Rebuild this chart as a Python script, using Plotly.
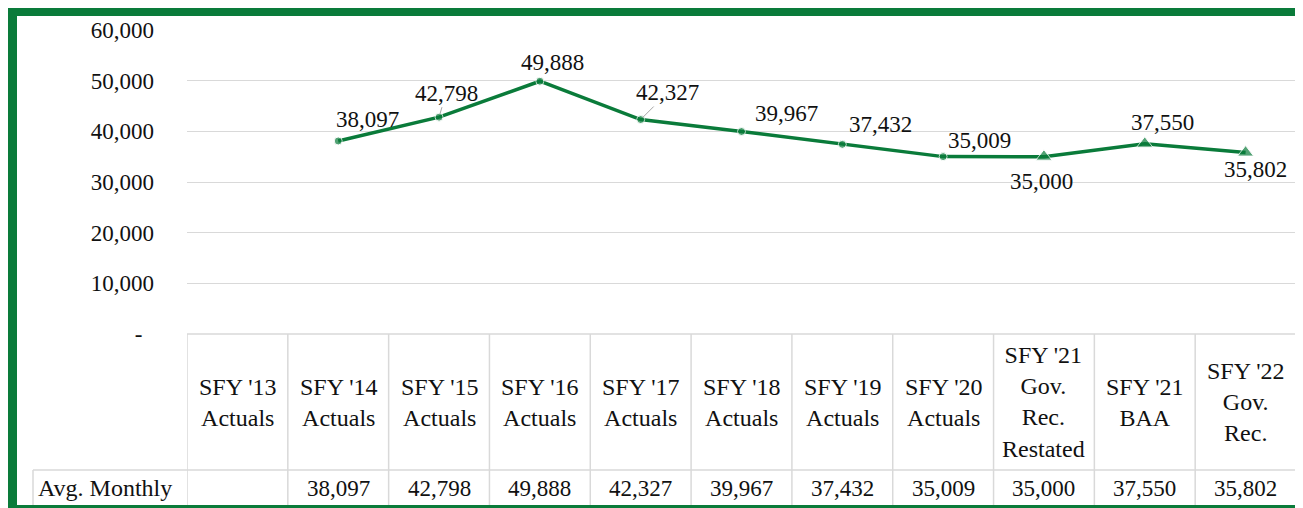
import plotly.graph_objects as go

# data
categories = ["SFY '13 Actuals", "SFY '14 Actuals", "SFY '15 Actuals", "SFY '16 Actuals",
              "SFY '17 Actuals", "SFY '18 Actuals", "SFY '19 Actuals", "SFY '20 Actuals",
              "SFY '21 Gov. Rec. Restated", "SFY '21 BAA", "SFY '22 Gov. Rec."]
header_labels = ["SFY '13<br>Actuals", "SFY '14<br>Actuals", "SFY '15<br>Actuals",
                 "SFY '16<br>Actuals", "SFY '17<br>Actuals", "SFY '18<br>Actuals",
                 "SFY '19<br>Actuals", "SFY '20<br>Actuals",
                 "SFY '21<br>Gov.<br>Rec.<br>Restated", "SFY '21<br>BAA",
                 "SFY '22<br>Gov.<br>Rec."]
avg_monthly = [None, 38097, 42798, 49888, 42327, 39967, 37432, 35009, 35000, 37550, 35802]
row_label = "Avg. Monthly"
y_ticks = [0, 10000, 20000, 30000, 40000, 50000, 60000]

GREEN = "#0A7B3A"
GRID = "#D9D9D9"
TEXT = "#111111"
FONT = "Liberation Serif"
W, H = 1303, 508
OFF = 8  # the page body margin shifts the figure by this much


def px(x):
    # page pixel column -> paper x
    return (x - OFF) / W


def py(y):
    # page pixel row -> paper y
    return 1 - (y - OFF) / H


symbols = ["circle"] * 8 + ["triangle-up"] * 3
sizes = [8] * 8 + [14] * 3

fig = go.Figure(go.Scatter(
    x=categories, y=avg_monthly, mode="lines+markers",
    line=dict(color=GREEN, width=3.5),
    marker=dict(color=GREEN, symbol=symbols, size=sizes),
    connectgaps=False, hoverinfo="skip",
))

num_font = dict(family=FONT, size=23, color=TEXT)
txt_font = dict(family=FONT, size=24, color=TEXT)

# data labels (offsets in pixels, as in the reference)
label_offsets = [None, (29, 21), (7, 24), (13, 19), (27, 27), (45, 18),
                 (38, 20), (36, 16), (-2, -25), (18, 21), (10, -17)]
leader = {2, 4}
for i, (c, v) in enumerate(zip(categories, avg_monthly)):
    if v is None:
        continue
    dx, dy = label_offsets[i]
    if i in leader:
        fig.add_annotation(x=c, y=v, xref="x", yref="y", text=f"{v:,}",
                           showarrow=True, arrowhead=0, arrowwidth=1,
                           arrowcolor="#A6A6A6", ax=dx, ay=-dy, standoff=3,
                           font=num_font)
    else:
        fig.add_annotation(x=c, y=v, xref="x", yref="y", text=f"{v:,}",
                           showarrow=False, xshift=dx, yshift=dy,
                           xanchor="center", yanchor="middle", font=num_font)

# data table below the plot
table_top, row_sep, table_bot = 334, 470, 516
line_style = dict(color=GRID, width=1.5)
shapes = []
for k in range(len(categories) + 1):
    shapes.append(dict(type="line", xref="x", yref="paper", x0=k - 0.5, x1=k - 0.5,
                       y0=py(table_top), y1=py(table_bot), line=line_style))
shapes.append(dict(type="line", xref="x", yref="paper", x0=-0.5, x1=len(categories) - 0.5,
                   y0=py(table_top), y1=py(table_top), line=line_style))
shapes.append(dict(type="line", xref="paper", yref="paper", x0=px(33), x1=px(1296),
                   y0=py(row_sep), y1=py(row_sep), line=line_style))
shapes.append(dict(type="line", xref="paper", yref="paper", x0=px(33), x1=px(33),
                   y0=py(row_sep), y1=py(table_bot), line=line_style))
# green frame
shapes.append(dict(type="rect", xref="paper", yref="paper", x0=px(12.5), x1=px(1299.5),
                   y0=py(509.5), y1=py(11.5), line=dict(color=GREEN, width=9)))

for c, lab, v in zip(categories, header_labels, avg_monthly):
    fig.add_annotation(x=c, y=py(402), xref="x", yref="paper", text=lab, showarrow=False,
                       xanchor="center", yanchor="middle", align="center", font=txt_font)
    if v is not None:
        fig.add_annotation(x=c, y=py(488), xref="x", yref="paper", text=f"{v:,}",
                           showarrow=False, xanchor="center", yanchor="middle",
                           font=num_font)
fig.add_annotation(x=px(36), y=py(488), xref="paper", yref="paper", text=row_label,
                   xanchor="left", yanchor="middle", showarrow=False, font=txt_font)

fig.update_layout(
    width=W, height=H,
    margin=dict(l=0, r=0, t=0, b=0, pad=0, autoexpand=False),
    plot_bgcolor="white", paper_bgcolor="white",
    showlegend=False,
    shapes=shapes,
    xaxis=dict(domain=[px(187), px(1296)], range=[-0.5, len(categories) - 0.5],
               showticklabels=False, showgrid=False, zeroline=False, showline=False,
               automargin=False, fixedrange=True),
    yaxis=dict(domain=[py(table_top), py(30)], range=[0, 60000],
               tickvals=y_ticks,
               ticktext=["-\u00a0\u00a0"] + [f"{t:,}" for t in y_ticks[1:]],
               tickfont=num_font,
               ticklabelstandoff=32, ticks="",
               showgrid=True, gridcolor=GRID, gridwidth=1,
               zeroline=False, showline=False, automargin=False, fixedrange=True),
)

fig.write_html("out.html")
